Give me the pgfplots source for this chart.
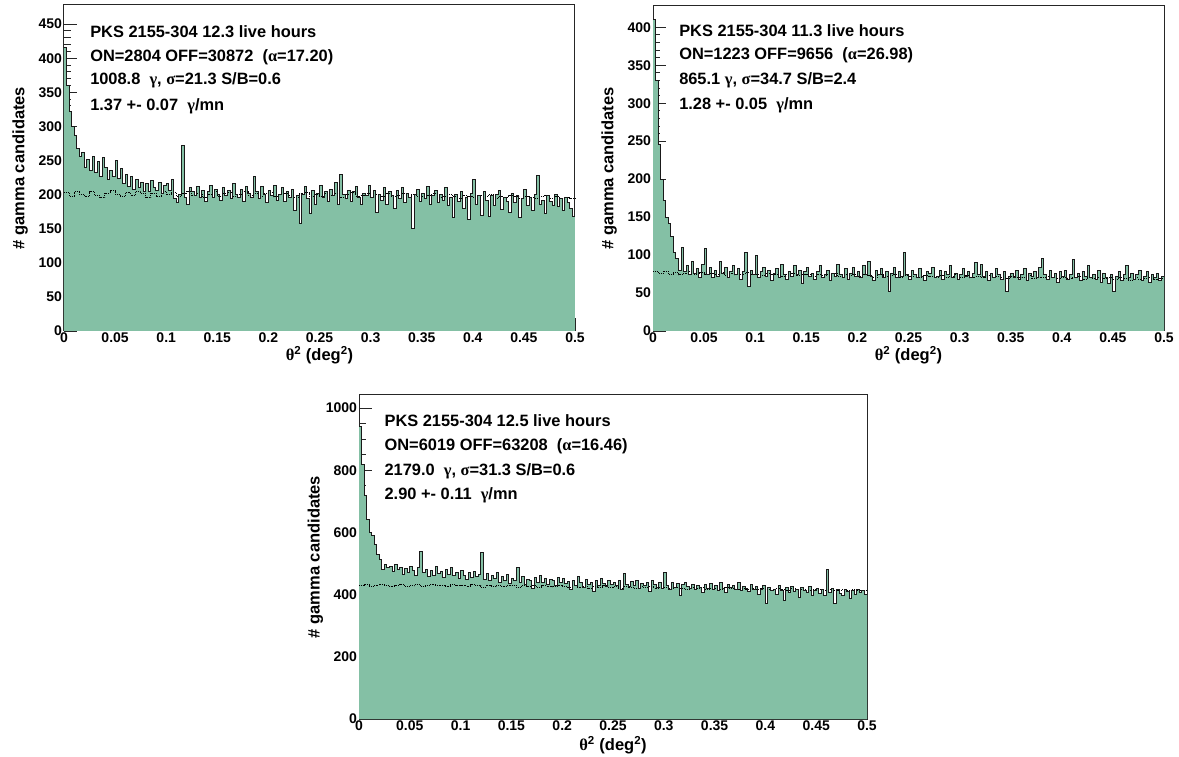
\documentclass[border=0pt]{standalone}
\usepackage{pgfplots}
\usepackage{pgfplotstable}
\pgfplotsset{compat=1.18}
\usepackage{fontspec}
\setmainfont{Liberation Sans}
\newfontfamily\sym{Liberation Serif}
\definecolor{hfill}{RGB}{132,192,165}

% ---------- top-left ON (bin width 0.0025) ----------
\pgfplotstableread[row sep=\\]{y\\
415\\360\\322\\300\\286\\268\\256\\262\\240\\252\\236\\256\\232\\249\\226\\254\\240\\222\\236\\226\\
250\\224\\238\\216\\230\\212\\226\\208\\222\\210\\218\\204\\216\\204\\220\\210\\206\\218\\202\\214\\
216\\206\\222\\194\\188\\200\\272\\196\\186\\210\\204\\198\\212\\196\\206\\190\\204\\214\\196\\208\\
200\\192\\210\\198\\206\\194\\216\\200\\196\\208\\190\\212\\202\\196\\226\\204\\194\\212\\200\\188\\
206\\198\\214\\192\\200\\210\\190\\204\\196\\208\\176\\198\\158\\200\\212\\194\\172\\206\\186\\202\\
214\\196\\204\\190\\208\\198\\218\\186\\230\\200\\194\\206\\190\\204\\212\\196\\186\\202\\198\\214\\
196\\206\\174\\200\\192\\210\\186\\204\\198\\180\\206\\194\\210\\188\\202\\196\\150\\200\\208\\190\\
202\\194\\212\\186\\198\\206\\188\\200\\192\\210\\184\\196\\166\\200\\190\\204\\180\\196\\164\\202\\
222\\186\\198\\170\\204\\192\\168\\198\\184\\200\\206\\178\\196\\190\\174\\202\\188\\198\\166\\194\\
208\\184\\196\\176\\200\\228\\186\\192\\172\\198\\190\\184\\200\\182\\194\\176\\196\\188\\180\\168\\
168\\}\tlon
% ---------- top-left OFF (bin width 0.005) ----------
\pgfplotstableread[row sep=\\]{y\\
203\\198\\205\\200\\197\\204\\199\\196\\202\\206\\200\\197\\203\\199\\205\\201\\196\\202\\198\\204\\
200\\203\\197\\201\\205\\199\\202\\196\\200\\204\\198\\201\\203\\197\\200\\204\\199\\202\\198\\201\\
203\\197\\200\\202\\199\\196\\201\\203\\198\\200\\197\\202\\199\\201\\196\\200\\203\\198\\199\\201\\
196\\200\\198\\202\\197\\199\\201\\196\\200\\198\\197\\199\\201\\196\\198\\200\\197\\195\\199\\198\\
196\\199\\197\\200\\195\\198\\196\\199\\197\\195\\198\\196\\194\\197\\199\\195\\197\\194\\196\\195\\
195\\}\tloff
% ---------- top-right ON ----------
\pgfplotstableread[row sep=\\]{y\\
410\\330\\245\\200\\172\\150\\142\\124\\104\\96\\80\\110\\78\\86\\74\\92\\76\\82\\70\\88\\
108\\74\\84\\70\\80\\72\\92\\76\\84\\70\\78\\86\\74\\82\\68\\78\\104\\58\\80\\74\\
100\\70\\78\\84\\72\\80\\66\\76\\82\\70\\88\\74\\68\\78\\72\\86\\74\\80\\62\\78\\
84\\72\\76\\68\\78\\86\\70\\74\\80\\66\\76\\72\\88\\74\\70\\82\\68\\76\\84\\72\\
78\\70\\86\\74\\92\\72\\66\\80\\74\\82\\70\\78\\52\\76\\84\\70\\78\\72\\104\\74\\
68\\80\\74\\70\\82\\72\\66\\78\\76\\84\\70\\72\\80\\68\\78\\74\\86\\70\\76\\68\\
74\\82\\72\\78\\70\\76\\90\\74\\88\\72\\78\\66\\76\\70\\82\\74\\68\\78\\52\\72\\
76\\70\\80\\68\\74\\82\\66\\76\\72\\78\\70\\84\\96\\74\\68\\80\\70\\76\\64\\78\\
72\\80\\68\\74\\94\\70\\76\\66\\78\\72\\86\\70\\74\\68\\80\\64\\76\\70\\62\\74\\
52\\72\\78\\66\\74\\86\\70\\76\\68\\74\\80\\66\\72\\78\\64\\74\\70\\76\\66\\72\\
72\\}\tron
% ---------- top-right OFF ----------
\pgfplotstableread[row sep=\\]{y\\
78\\76\\79\\75\\77\\74\\76\\78\\75\\77\\74\\76\\75\\77\\73\\76\\74\\75\\77\\74\\
75\\73\\76\\74\\75\\72\\74\\76\\73\\75\\74\\72\\75\\73\\74\\76\\72\\74\\73\\75\\
72\\74\\73\\71\\74\\72\\73\\75\\71\\73\\72\\74\\71\\73\\72\\70\\73\\71\\72\\74\\
71\\73\\70\\72\\71\\73\\70\\72\\71\\69\\72\\70\\71\\73\\69\\71\\70\\72\\70\\69\\
71\\69\\70\\72\\68\\70\\69\\71\\69\\70\\68\\70\\69\\67\\70\\68\\69\\70\\68\\69\\
69\\}\troff
% ---------- bottom ON ----------
\pgfplotstableread[row sep=\\]{y\\
940\\820\\720\\640\\600\\590\\560\\530\\512\\482\\498\\486\\492\\474\\496\\480\\488\\466\\484\\470\\
492\\476\\462\\488\\540\\470\\482\\458\\476\\462\\490\\468\\474\\456\\480\\466\\486\\460\\472\\452\\
478\\462\\448\\470\\456\\474\\458\\466\\535\\450\\468\\444\\462\\452\\470\\440\\458\\446\\466\\436\\
452\\444\\488\\440\\458\\434\\450\\446\\420\\456\\438\\462\\440\\452\\432\\448\\444\\430\\456\\438\\
452\\436\\442\\418\\446\\430\\458\\438\\424\\448\\434\\440\\410\\446\\430\\452\\436\\426\\444\\432\\
440\\428\\446\\418\\468\\432\\426\\442\\430\\444\\420\\436\\428\\438\\410\\446\\432\\424\\440\\420\\
472\\430\\418\\438\\424\\436\\396\\432\\440\\426\\420\\434\\418\\430\\424\\408\\432\\420\\436\\416\\
428\\414\\440\\420\\408\\432\\422\\428\\416\\438\\412\\426\\420\\410\\434\\418\\426\\402\\418\\430\\
370\\424\\412\\418\\400\\428\\412\\380\\422\\406\\426\\410\\418\\390\\424\\412\\408\\426\\398\\414\\
420\\404\\416\\396\\480\\408\\420\\370\\416\\404\\398\\418\\410\\386\\414\\402\\418\\406\\412\\400\\
400\\}\bon
% ---------- bottom OFF ----------
\pgfplotstableread[row sep=\\]{y\\
428\\432\\426\\430\\434\\428\\425\\431\\433\\427\\429\\432\\426\\430\\434\\428\\431\\427\\433\\429\\
430\\426\\432\\428\\424\\431\\427\\429\\425\\430\\428\\424\\430\\426\\428\\423\\429\\425\\427\\430\\
426\\422\\428\\424\\427\\421\\426\\423\\428\\424\\425\\421\\426\\423\\420\\425\\422\\427\\421\\424\\
422\\419\\424\\421\\418\\423\\420\\422\\418\\421\\420\\417\\422\\419\\416\\421\\418\\420\\417\\419\\
418\\415\\420\\417\\414\\419\\416\\418\\415\\417\\416\\414\\418\\415\\413\\417\\414\\416\\413\\415\\
415\\}\boff

\pgfplotsset{
  rootaxis/.style={
    scale only axis,
    anchor=south west,
    xmin=0, xmax=0.5,
    axis line style={line width=1pt, black!85},
    tick align=inside, tick pos=left,
    major tick length=13pt, minor tick length=6.5pt,
    every tick/.style={line width=0.9pt, black!85},
    xtick={0,0.05,0.1,0.15,0.2,0.25,0.3,0.35,0.4,0.45,0.5},
    xticklabels={0,0.05,0.1,0.15,0.2,0.25,0.3,0.35,0.4,0.45,0.5},
    minor x tick num=4,
    ticklabel style={font=\fontsize{14}{14}\selectfont\bfseries},
    xticklabel style={yshift=1.5pt},
    yticklabel style={xshift=1.5pt},
    xlabel={{\sym θ}\textsuperscript{2} (deg\textsuperscript{2})},
    ylabel={\# gamma candidates},
    every axis x label/.style={at={(axis description cs:0.5,-0.075)}, anchor=center, font=\fontsize{16.5}{16.5}\selectfont\bfseries},
    every axis y label/.style={at={(axis description cs:-0.086,0.5)}, rotate=90, anchor=center, font=\fontsize{16.5}{16.5}\selectfont\bfseries},
    clip=false,
  },
}
\tikzset{txt/.style={anchor=base west, inner sep=0pt, font=\fontsize{16.4}{16.4}\selectfont\bfseries}}

\begin{document}
\begin{tikzpicture}
\useasboundingbox (0pt,0pt) rectangle (1179pt,756pt);

% ================= top-left =================
\begin{axis}[rootaxis, at={(64pt,425pt)}, width=511pt, height=326pt,
  ymin=0, ymax=478,
  ytick={0,50,100,150,200,250,300,350,400,450},
  yticklabels={0,50,100,150,200,250,300,350,400,450},
  minor y tick num=4]
\addplot[const plot, fill=hfill, draw=none] table[x expr=\coordindex*0.0025, y=y] {\tlon} \closedcycle;
\addplot[const plot, densely dotted, line width=0.9pt, black] table[x expr=\coordindex*0.005, y=y] {\tloff};
\addplot[const plot, line width=1pt, black!90] table[x expr=\coordindex*0.0025, y=y] {\tlon};
\node[txt] at (rel axis cs:0.051,0.899) {PKS 2155-304 12.3 live hours};
\node[txt] at (rel axis cs:0.051,0.828) {ON=2804 OFF=30872\ \ ({\sym α}=17.20)};
\node[txt] at (rel axis cs:0.051,0.755) {1008.8\ \ {\sym γ}, {\sym σ}=21.3 S/B=0.6};
\node[txt] at (rel axis cs:0.051,0.675) {1.37 +- 0.07\ \ {\sym γ}/mn};
\end{axis}

% ================= top-right =================
\begin{axis}[rootaxis, at={(653pt,425pt)}, width=511pt, height=325pt,
  ymin=0, ymax=428,
  ytick={0,50,100,150,200,250,300,350,400},
  yticklabels={0,50,100,150,200,250,300,350,400},
  minor y tick num=4]
\addplot[const plot, fill=hfill, draw=none] table[x expr=\coordindex*0.0025, y=y] {\tron} \closedcycle;
\addplot[const plot, densely dotted, line width=0.9pt, black] table[x expr=\coordindex*0.005, y=y] {\troff};
\addplot[const plot, line width=1pt, black!90] table[x expr=\coordindex*0.0025, y=y] {\tron};
\node[txt] at (rel axis cs:0.051,0.905) {PKS 2155-304 11.3 live hours};
\node[txt] at (rel axis cs:0.051,0.834) {ON=1223 OFF=9656\ \ ({\sym α}=26.98)};
\node[txt] at (rel axis cs:0.051,0.757) {865.1 {\sym γ}, {\sym σ}=34.7 S/B=2.4};
\node[txt] at (rel axis cs:0.051,0.683) {1.28 +- 0.05\ \ {\sym γ}/mn};
\end{axis}

% ================= bottom =================
\begin{axis}[rootaxis, at={(359pt,37pt)}, width=508pt, height=324pt,
  ymin=0, ymax=1042,
  ytick={0,200,400,600,800,1000},
  yticklabels={0,200,400,600,800,1000},
  minor y tick num=3,
  every axis x label/.style={at={(axis description cs:0.5,-0.08)}, anchor=center, font=\fontsize{16.5}{16.5}\selectfont\bfseries}]
\addplot[const plot, fill=hfill, draw=none] table[x expr=\coordindex*0.0025, y=y] {\bon} \closedcycle;
\addplot[const plot, densely dotted, line width=0.9pt, black] table[x expr=\coordindex*0.005, y=y] {\boff};
\addplot[const plot, line width=1pt, black!90] table[x expr=\coordindex*0.0025, y=y] {\bon};
\node[txt] at (rel axis cs:0.050,0.904) {PKS 2155-304 12.5 live hours};
\node[txt] at (rel axis cs:0.050,0.830) {ON=6019 OFF=63208\ \ ({\sym α}=16.46)};
\node[txt] at (rel axis cs:0.050,0.753) {2179.0\ \ {\sym γ}, {\sym σ}=31.3 S/B=0.6};
\node[txt] at (rel axis cs:0.050,0.679) {2.90 +- 0.11\ \ {\sym γ}/mn};
\end{axis}
\end{tikzpicture}
\end{document}
